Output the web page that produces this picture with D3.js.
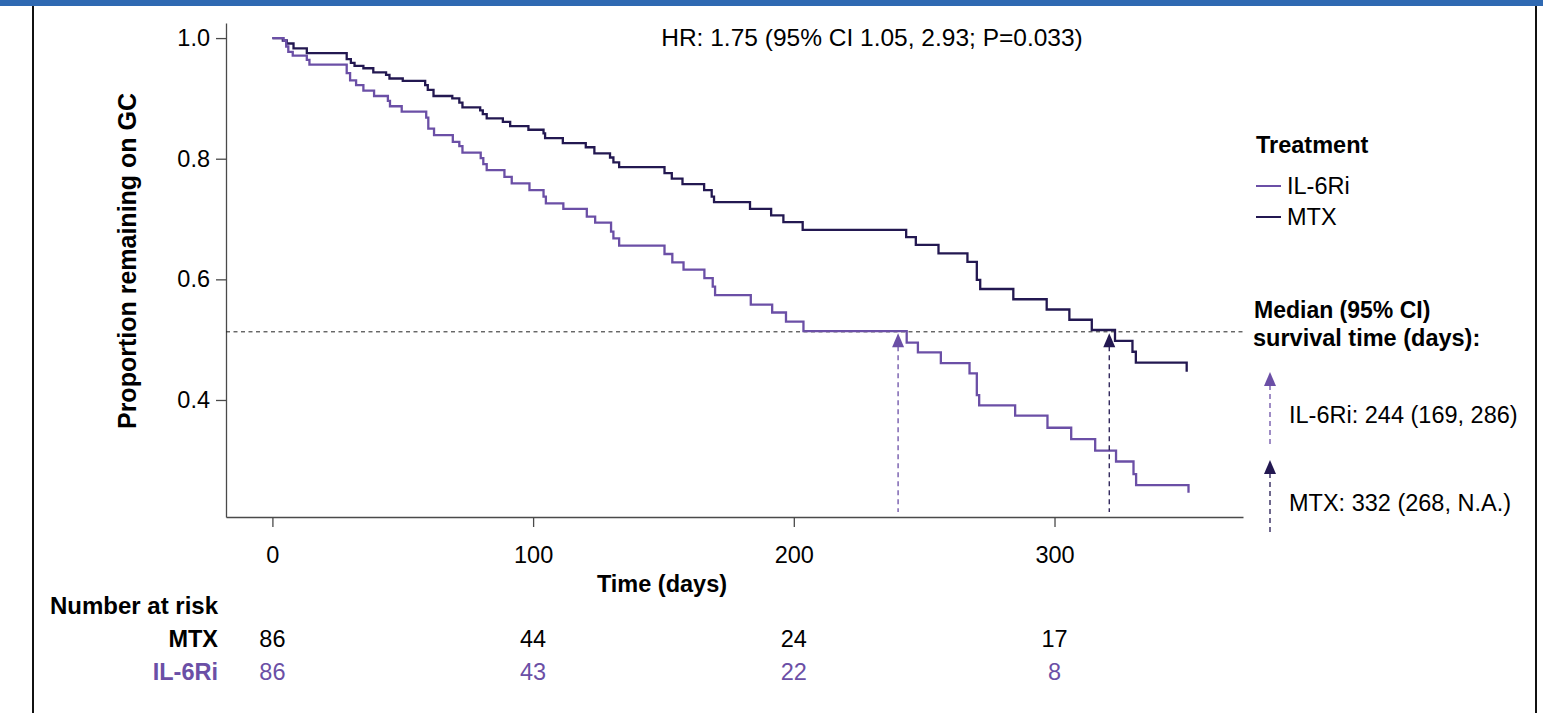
<!DOCTYPE html>
<html>
<head>
<meta charset="utf-8">
<script src="https://cdn.jsdelivr.net/npm/d3@7"></script>
<style>
  body { margin: 0; background: #fff; }
  svg { display: block; font-family: "Liberation Sans", Arial, sans-serif; }
</style>
</head>
<body>
<svg id="chart"></svg>
<script>
// Kaplan-Meier steps: [day, proportion after the drop]
const mtxSteps = [[0,1],[4.0,0.996],[5.5,0.991],[8.1,0.983],[13.2,0.975],[28.5,0.965],[30.1,0.959],[31.5,0.954],[34.9,0.950],[38.7,0.943],[43.6,0.939],[44.9,0.933],[50.0,0.929],[58.6,0.922],[59.6,0.914],[61.8,0.904],[69.0,0.900],[71.7,0.893],[72.9,0.885],[79.7,0.880],[80.7,0.874],[82.2,0.867],[88.4,0.861],[91.2,0.854],[98.2,0.848],[104.0,0.842],[104.6,0.834],[111.4,0.826],[120.2,0.819],[123.5,0.809],[129.5,0.802],[130.8,0.794],[133.0,0.786],[150.4,0.776],[153.2,0.767],[157.3,0.758],[165.6,0.748],[168.5,0.737],[169.4,0.728],[183.2,0.717],[191.3,0.706],[196.0,0.695],[203.4,0.682],[243.1,0.670],[246.8,0.657],[255.5,0.643],[266.6,0.629],[270.2,0.599],[271.5,0.584],[284.2,0.567],[297.0,0.550],[305.7,0.533],[314.3,0.516],[323.2,0.498],[329.9,0.480],[331.2,0.462],[350.7,0.447]];

const il6Steps = [[0,1],[4.3,0.996],[5.3,0.986],[6.1,0.977],[7.8,0.971],[13.2,0.964],[14.2,0.956],[28.5,0.942],[29.8,0.930],[32.1,0.922],[34.9,0.913],[39.0,0.904],[44.3,0.896],[45.1,0.887],[49.6,0.878],[59.0,0.868],[59.8,0.850],[62.0,0.839],[69.2,0.828],[71.7,0.821],[72.9,0.810],[79.9,0.801],[80.9,0.791],[82.2,0.781],[89.0,0.770],[91.8,0.759],[98.6,0.748],[104.0,0.737],[104.9,0.726],[111.6,0.717],[120.6,0.704],[123.8,0.694],[129.9,0.679],[130.8,0.668],[133.0,0.656],[150.4,0.642],[153.4,0.628],[157.7,0.616],[165.7,0.602],[168.9,0.588],[169.8,0.574],[183.5,0.558],[191.7,0.545],[197.0,0.530],[203.7,0.514],[243.3,0.495],[247.6,0.479],[256.4,0.461],[267.4,0.444],[270.2,0.408],[271.1,0.391],[284.9,0.374],[297.3,0.354],[306.4,0.335],[315.6,0.316],[323.6,0.298],[330.3,0.277],[331.3,0.259],[351.4,0.246]];

const groups = ['IL-6Ri', 'MTX'];
const medianLevel = 0.513;
const medianArrowDays = [240, 321];   // where the arrows sit on the plot
const medianLabels = ['IL-6Ri: 244 (169, 286)', 'MTX: 332 (268, N.A.)'];

const xTicks = [0, 100, 200, 300];
const yTicks = [0.4, 0.6, 0.8, 1.0];
const riskTimes = [0, 100, 200, 300];
const riskMTX = [86, 44, 24, 17];
const riskIL6 = [86, 43, 22, 8];

const hrText = 'HR: 1.75 (95% CI 1.05, 2.93; P=0.033)';

const colors = { 'IL-6Ri': '#6b4fa6', 'MTX': '#231851' };
const W = 1543, H = 713;
const fs = 23.5;

const svg = d3.select('#chart').attr('width', W).attr('height', H);

// frame
svg.append('rect').attr('x', 0).attr('y', 0).attr('width', W).attr('height', 6).attr('fill', '#2f69b2');
svg.append('line').attr('x1', 33).attr('x2', 33).attr('y1', 6).attr('y2', H).attr('stroke', '#111').attr('stroke-width', 2);
svg.append('line').attr('x1', 1536).attr('x2', 1536).attr('y1', 6).attr('y2', H).attr('stroke', '#111').attr('stroke-width', 2);

const x = d3.scaleLinear().domain([-17.8, 372.3]).range([226, 1243]);
const y = d3.scaleLinear().domain([0.206, 1.025]).range([517, 23]);

const yAxis = svg.append('g')
    .attr('transform', 'translate(226,0)')
    .call(d3.axisLeft(y).tickValues(yTicks).tickFormat(d3.format('.1f')).tickSize(10).tickSizeOuter(0).tickPadding(6));

const xAxis = svg.append('g')
    .attr('transform', 'translate(0,517)')
    .call(d3.axisBottom(x).tickValues(xTicks).tickFormat(d3.format('d')).tickSize(10).tickSizeOuter(0).tickPadding(19));

[yAxis, xAxis].forEach(g => {
    g.selectAll('path, line').attr('stroke', '#4a4a4a').attr('stroke-width', 1.3);
    g.selectAll('text').attr('font-size', fs).attr('fill', '#000').attr('font-family', '"Liberation Sans", Arial, sans-serif');
});

// axis titles
svg.append('text')
    .attr('transform', 'translate(136,261) rotate(-90)')
    .attr('text-anchor', 'middle')
    .attr('font-size', 25).attr('font-weight', 'bold')
    .text('Proportion remaining on GC');

svg.append('text')
    .attr('x', 662).attr('y', 592)
    .attr('text-anchor', 'middle')
    .attr('font-size', fs).attr('font-weight', 'bold')
    .text('Time (days)');

svg.append('text')
    .attr('x', 872).attr('y', 46)
    .attr('text-anchor', 'middle')
    .attr('font-size', 24.5)
    .text(hrText);

// median reference line
svg.append('line')
    .attr('x1', 226).attr('x2', 1243)
    .attr('y1', y(medianLevel)).attr('y2', y(medianLevel))
    .attr('stroke', '#222').attr('stroke-width', 1).attr('stroke-dasharray', '4,3.5');

// survival curves
const stepLine = d3.line()
    .x(d => x(d[0]))
    .y(d => y(d[1]))
    .curve(d3.curveStepAfter);

svg.append('path').datum(mtxSteps)
    .attr('d', stepLine).attr('fill', 'none')
    .attr('stroke', colors['MTX']).attr('stroke-width', 2.3);

svg.append('path').datum(il6Steps)
    .attr('d', stepLine).attr('fill', 'none')
    .attr('stroke', colors['IL-6Ri']).attr('stroke-width', 2.3);

// arrow helper: tip at (cx, tipY)
function arrow(cx, tipY, lineEnd, color) {
    svg.append('line')
        .attr('x1', cx).attr('x2', cx)
        .attr('y1', tipY + 13).attr('y2', lineEnd)
        .attr('stroke', color).attr('stroke-width', 1.3).attr('stroke-dasharray', '5,4');
    svg.append('path')
        .attr('d', `M${cx},${tipY} L${cx - 6},${tipY + 14} L${cx + 6},${tipY + 14} Z`)
        .attr('fill', color);
}

groups.forEach((g, i) => {
    arrow(x(medianArrowDays[i]), y(medianLevel) + 1.5, 512, colors[g]);
});

// legend
svg.append('text')
    .attr('x', 1256).attr('y', 153)
    .attr('font-size', fs).attr('font-weight', 'bold')
    .text('Treatment');

groups.forEach((g, i) => {
    const ly = 186 + i * 31;
    svg.append('line')
        .attr('x1', 1256).attr('x2', 1281)
        .attr('y1', ly).attr('y2', ly)
        .attr('stroke', colors[g]).attr('stroke-width', 2);
    svg.append('text')
        .attr('x', 1287).attr('y', ly + 8)
        .attr('font-size', fs)
        .text(g);
});

svg.append('text')
    .attr('x', 1254).attr('y', 318)
    .attr('font-size', 23).attr('font-weight', 'bold')
    .text('Median (95% CI)');
svg.append('text')
    .attr('x', 1253).attr('y', 346)
    .attr('font-size', fs).attr('font-weight', 'bold')
    .text('survival time (days):');

groups.forEach((g, i) => {
    const tip = 372 + i * 88;
    arrow(1270, tip, tip + 74, colors[g]);
    svg.append('text')
        .attr('x', 1289).attr('y', tip + 51)
        .attr('font-size', fs)
        .text(medianLabels[i]);
});

// number at risk table
svg.append('text')
    .attr('x', 50).attr('y', 614)
    .attr('font-size', 24).attr('font-weight', 'bold')
    .text('Number at risk');

const riskRows = [
    { name: 'MTX', values: riskMTX, color: '#000', y: 647 },
    { name: 'IL-6Ri', values: riskIL6, color: colors['IL-6Ri'], y: 680 }
];

riskRows.forEach(r => {
    svg.append('text')
        .attr('x', 218).attr('y', r.y)
        .attr('text-anchor', 'end')
        .attr('font-size', fs).attr('font-weight', 'bold')
        .attr('fill', r.color)
        .text(r.name);
    svg.selectAll(null)
        .data(r.values)
        .enter().append('text')
        .attr('x', (d, i) => x(riskTimes[i]))
        .attr('y', r.y)
        .attr('text-anchor', 'middle')
        .attr('font-size', fs)
        .attr('fill', r.color)
        .text(d => d);
});
</script>
</body>
</html>
